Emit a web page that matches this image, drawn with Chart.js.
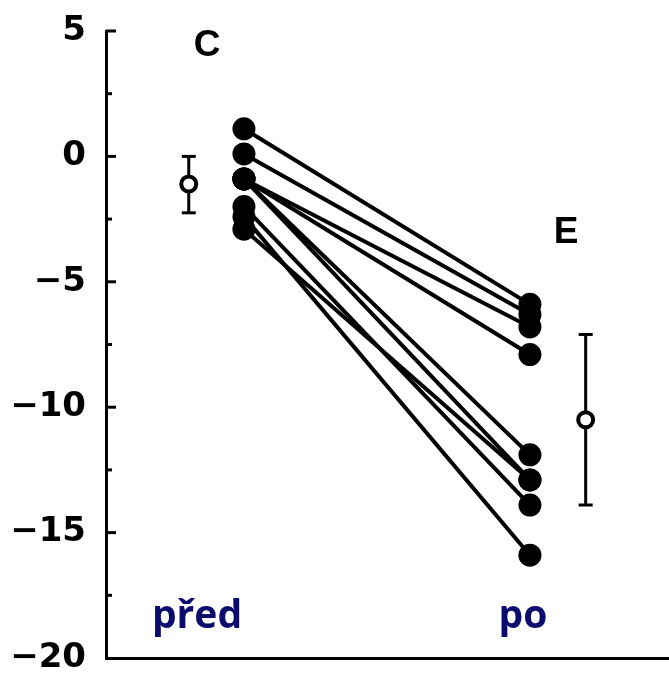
<!DOCTYPE html>
<html>
<head>
<meta charset="utf-8">
<script src="https://cdn.jsdelivr.net/npm/chart.js@4.4.1/dist/chart.umd.min.js"></script>
<style>
  html, body { margin: 0; padding: 0; background: #fff; }
</style>
</head>
<body>
<canvas id="graficoPredPo" width="669" height="674"></canvas>
<script>
/* DADOS */
var pred = [1.1, 0.1, -0.9, -0.9, -0.9, -0.9, -2.9, -2.0, -2.4];
var po = [-5.9, -6.3, -6.8, -7.9, -11.9, -12.9, -12.9, -13.9, -15.9];
var meanPred = [-1.1, 0.0, -2.25];   // media, topo, base
var meanPo = [-10.5, -7.1, -13.9];
var yTicks = [5, 0, -5, -10, -15, -20];
var groupLabels = ['před', 'po'];
var panelLabels = ['C', 'E'];

// posicao horizontal das colunas
var xPred = 2.45, xPo = 7.53, xMeanPred = 1.47, xMeanPo = 8.52;

var datasets = [];

// pontos individuais
var pts = [];
for (var i = 0; i < pred.length; i++) {
  pts.push({x: xPred, y: pred[i]});
  pts.push({x: xPo, y: po[i]});
}
datasets.push({
  type: 'scatter', data: pts, order: 0,
  pointRadius: 11.5, backgroundColor: '#000', borderWidth: 0
});

// medias
datasets.push({
  type: 'scatter', order: 1,
  data: [{x: xMeanPred, y: meanPred[0]}, {x: xMeanPo, y: meanPo[0]}],
  pointRadius: 7.5, backgroundColor: '#fff', borderColor: '#000', borderWidth: 4
});

// barras de erro
[[xMeanPred, meanPred], [xMeanPo, meanPo]].forEach(function (m) {
  datasets.push({
    type: 'line', order: 2,
    data: [{x: m[0], y: m[1][1]}, {x: m[0], y: m[1][2]}],
    borderColor: '#000', borderWidth: 3,
    pointStyle: 'line', pointRadius: 7, pointBorderWidth: 3, pointBorderColor: '#000'
  });
});

// linhas ligando antes e depois
for (var j = 0; j < pred.length; j++) {
  datasets.push({
    type: 'line', order: 3,
    data: [{x: xPred, y: pred[j]}, {x: xPo, y: po[j]}],
    borderColor: '#000', borderWidth: 4, pointRadius: 0
  });
}

// ticks internos do eixo y + textos
var extras = {
  id: 'extras',
  afterDraw: function (chart) {
    var ctx = chart.ctx, y = chart.scales.y, a = chart.chartArea;
    ctx.save();
    ctx.strokeStyle = '#000';
    ctx.lineWidth = 3;
    for (var v = 5; v > -20; v -= 2.5) {
      var py = y.getPixelForValue(v);
      var len = (v % 5 === 0) ? 10 : 6;
      ctx.beginPath();
      ctx.moveTo(a.left, py);
      ctx.lineTo(a.left + len, py);
      ctx.stroke();
    }
    ctx.fillStyle = '#000';
    ctx.textAlign = 'center';
    ctx.textBaseline = 'middle';
    ctx.font = 'bold 37px "Liberation Sans"';
    ctx.fillText(panelLabels[0], 207, 46);
    ctx.fillText(panelLabels[1], 566, 233);
    ctx.fillStyle = '#0b0b6e';
    ctx.textBaseline = 'alphabetic';
    ctx.font = 'bold 39px "Open Sans"';
    ctx.fillText(groupLabels[0], 197, 628);
    ctx.fillText(groupLabels[1], 523, 628);
    ctx.restore();
  }
};

var ctx = document.getElementById('graficoPredPo').getContext('2d');
var chartPredPo = new Chart(ctx, {
  type: 'scatter',
  data: {datasets: datasets},
  plugins: [extras],
  options: {
    responsive: false,
    animation: false,
    layout: {autoPadding: false, padding: {top: 31, left: 0, right: 0, bottom: 0}},
    plugins: {legend: {display: false}, tooltip: {enabled: false}},
    scales: {
      x: {
        type: 'linear', min: 0, max: 10,
        ticks: {display: false},
        grid: {drawOnChartArea: false, drawTicks: false, color: 'rgba(0,0,0,0)'},
        border: {display: true, color: '#000', width: 3},
        afterFit: function (s) {
          s.height = 16;
          s.paddingLeft = 0; s.paddingRight = 0;
        }
      },
      y: {
        type: 'linear', min: -20, max: 5,
        afterBuildTicks: function (s) {
          s.ticks = yTicks.map(function (t) { return {value: t}; });
        },
        ticks: {
          color: '#000', padding: 20,
          font: {family: 'DejaVu Sans', weight: 'bold', size: 34},
          callback: function (v) { return String(v).replace('-', '\u2212'); }
        },
        grid: {drawOnChartArea: false, drawTicks: false, color: 'rgba(0,0,0,0)'},
        border: {display: true, color: '#000', width: 3},
        afterFit: function (s) {
          s.width = 106;
          s.paddingTop = 0; s.paddingBottom = 0;
        }
      }
    }
  }
});
</script>
</body>
</html>
